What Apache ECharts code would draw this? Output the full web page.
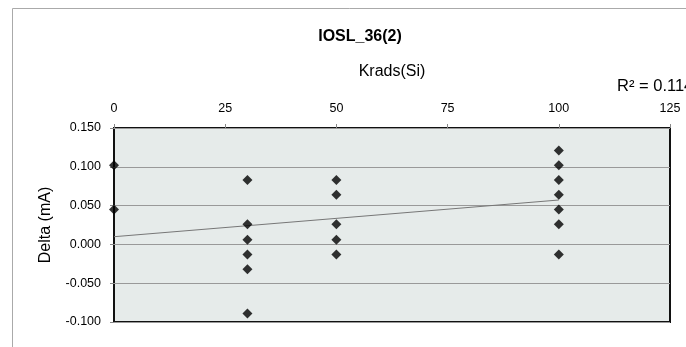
<!DOCTYPE html>
<html>
<head>
<meta charset="utf-8">
<script src="https://cdn.jsdelivr.net/npm/echarts@6/dist/echarts.min.js"></script>
<style>
html, body { margin: 0; padding: 0; background: #fff; }
#chart { width: 686px; height: 347px; }
</style>
</head>
<body>
<div id="chart"></div>
<script>
// measured points: dose (Krads(Si)) and delta (mA)
var krads = [0, 0,
    30, 30, 30, 30, 30, 30,
    50, 50, 50, 50, 50,
    100, 100, 100, 100, 100, 100, 100];
var deltaMa = [0.102, 0.045,
    0.083, 0.026, 0.006, -0.013, -0.032, -0.089,
    0.083, 0.064, 0.026, 0.006, -0.013,
    0.121, 0.102, 0.083, 0.064, 0.045, 0.026, -0.013];

// linear trendline ends
var trendX = [0, 100];
var trendY = [0.0099, 0.0572];

var xTicks = [0, 25, 50, 75, 100, 125];
var yTicks = [-0.1, -0.05, 0, 0.05, 0.1, 0.15];

var points = krads.map(function (x, i) { return [x, deltaMa[i]]; });
var trend = trendX.map(function (x, i) { return [x, trendY[i]]; });

var font = 'Liberation Sans, Arial, sans-serif';
var myChart = echarts.init(document.getElementById('chart'));

var option = {
    animation: false,
    title: {
        text: 'IOSL_36(2)',
        left: 360,
        top: 29,
        padding: 0,
        textAlign: 'center',
        textStyle: { fontFamily: font, fontSize: 16, fontWeight: 'bold', color: '#000' }
    },
    graphic: [
        {
            type: 'rect',
            shape: { x: 12.5, y: 8.5, width: 720, height: 400 },
            style: { fill: 'none', stroke: '#aaa', lineWidth: 1 },
            silent: true
        },
        {
            type: 'text',
            left: 617,
            top: 78,
            style: { text: 'R² = 0.114', font: '16.5px ' + font, fill: '#000' }
        }
    ],
    grid: {
        left: 114,
        right: 16,
        top: 128,
        bottom: 25,
        show: true,
        backgroundColor: '#e6ebea',
        borderColor: '#111',
        borderWidth: 2
    },
    xAxis: {
        type: 'value',
        position: 'top',
        min: xTicks[0],
        max: xTicks[xTicks.length - 1],
        interval: 25,
        name: 'Krads(Si)',
        nameLocation: 'middle',
        nameGap: 48,
        nameTextStyle: { fontFamily: font, fontSize: 16, color: '#000' },
        axisLine: { show: false, onZero: false },
        axisTick: { show: true, length: 4, lineStyle: { color: '#888' } },
        axisLabel: { fontFamily: font, fontSize: 12.5, color: '#000', margin: 13 },
        splitLine: { show: false }
    },
    yAxis: {
        type: 'value',
        min: yTicks[0],
        max: yTicks[yTicks.length - 1],
        interval: 0.05,
        name: 'Delta (mA)',
        nameLocation: 'middle',
        nameGap: 60,
        nameTextStyle: { fontFamily: font, fontSize: 16, color: '#000' },
        axisLine: { show: false, onZero: false },
        axisTick: { show: true, length: 4, lineStyle: { color: '#888' } },
        axisLabel: {
            fontFamily: font, fontSize: 12.5, color: '#000', margin: 13,
            formatter: function (v) { return v.toFixed(3); }
        },
        splitLine: { show: true, lineStyle: { color: '#999', width: 1 } }
    },
    series: [
        {
            type: 'line',
            data: trend,
            symbol: 'none',
            lineStyle: { color: '#777', width: 1 },
            z: 2
        },
        {
            type: 'scatter',
            data: points,
            symbol: 'diamond',
            symbolSize: 10,
            itemStyle: { color: '#000' },
            z: 3
        }
    ]
};
myChart.setOption(option);
</script>
</body>
</html>
